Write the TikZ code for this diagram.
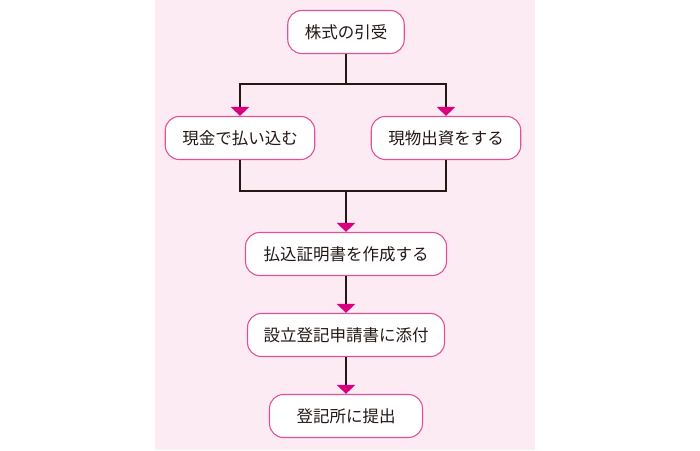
\documentclass[tikz,border=0pt]{standalone}
\usepackage{fontspec}
\usetikzlibrary{arrows.meta}
\newfontfamily\jpfont{Noto Sans CJK JP}
\definecolor{bgpink}{HTML}{FCEBF3}
\definecolor{boxpink}{HTML}{E2509A}
\definecolor{tippink}{HTML}{D8007E}
\definecolor{ink}{HTML}{231815}
\tikzset{
  stepbox/.style={draw=boxpink,fill=white,line width=1.1pt,rounded corners=14pt,
    minimum height=43pt,inner xsep=17pt,text=ink,
    font=\jpfont\fontsize{16.5}{20}\selectfont},
  flow/.style={draw=ink,line width=1.3pt,
    -{Triangle[width=18pt,length=9pt,color=tippink]}},
  link/.style={draw=ink,line width=1.3pt}
}
\begin{document}
\begin{tikzpicture}[x=1pt,y=1pt]
        \useasboundingbox (0,0) rectangle (700,450);
        \fill[bgpink] (155,0) rectangle (535,450);

        % Steps
        \node[stepbox] (hikiuke) at (346,418) {株式の引受};
        \node[stepbox] (genkin) at (240,312) {現金で払い込む};
        \node[stepbox] (genbutsu) at (446,312) {現物出資をする};
        \node[stepbox,inner xsep=18pt] (shomei) at (346,196) {払込証明書を作成する};
        \node[stepbox,inner xsep=16pt] (tenpu) at (346,115) {設立登記申請書に添付};
        \node[stepbox,inner xsep=27pt] (teishutsu) at (346,34) {登記所に提出};

        % Branch points
        \coordinate (split) at (346,366);
        \coordinate (join) at (346,259);

        \draw[link] (hikiuke.south) -- (split);
        \draw[flow] (split) -| (genkin.north);
        \draw[flow] (split) -| (genbutsu.north);
        \draw[link] (genkin.south) |- (join) -| (genbutsu.south);
        \draw[flow] (join) -- (shomei.north);
        \draw[flow] (shomei) -- (tenpu);
        \draw[flow] (tenpu) -- (teishutsu);
\end{tikzpicture}
\end{document}
